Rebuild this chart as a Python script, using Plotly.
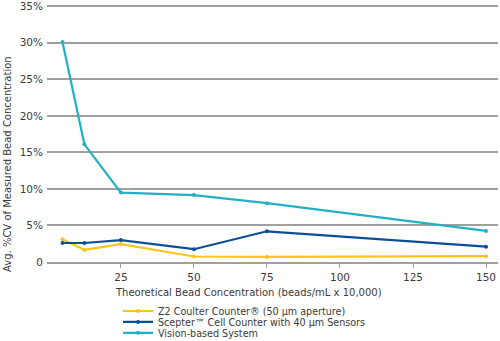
import plotly.graph_objects as go

# Theoretical bead concentration (beads/mL x 10,000)
conc = [5, 12.5, 25, 50, 75, 150]

# Average %CV of measured bead concentration, per instrument
z2_cv = [3.1, 1.65, 2.45, 0.75, 0.7, 0.8]
scepter_cv = [2.6, 2.6, 3.0, 1.75, 4.2, 2.1]
vision_cv = [30.1, 16.1, 9.5, 9.15, 8.05, 4.25]

series_names = [
    "Z2 Coulter Counter® (50 µm aperture)",
    "Scepter™ Cell Counter with 40 µm Sensors",
    "Vision-based System",
]
series_values = [z2_cv, scepter_cv, vision_cv]
series_colors = ["#f7c51e", "#0b4f96", "#22b0c2"]

y_ticks = [0, 5, 10, 15, 20, 25, 30, 35]
y_tick_text = ["0", "5%", "10%", "15%", "20%", "25%", "30%", "35%"]
x_ticks = [25, 50, 75, 100, 125, 150]

x_title = "Theoretical Bead Concentration (beads/mL x 10,000)"
y_title = "Avg. %CV of Measured Bead Concentration"

font_family = "DejaVu Sans, Verdana, sans-serif"
text_color = "#3a3a3a"
grid_color = "#a0a0a0"

# one compact legend per series, stacked tightly under the x-axis title
legend_ids = ["legend", "legend2", "legend3"]
legend_rows = [0.088, 0.056, 0.024]

fig = go.Figure()
for name, vals, color, lid in zip(series_names, series_values, series_colors, legend_ids):
    fig.add_trace(go.Scatter(
        x=conc, y=vals, name=name, mode="lines+markers",
        line=dict(color=color, width=2.2),
        marker=dict(color=color, size=4),
        legend=lid,
    ))

legend_style = dict(
    xref="container", yref="container", x=0.236, xanchor="left", yanchor="middle",
    font=dict(size=9.6, color=text_color), itemwidth=30,
    bgcolor="rgba(0,0,0,0)", borderwidth=0,
)

# axis titles are centred on the page rather than on the plot area
fig.add_annotation(
    text=x_title, xref="paper", yref="paper", x=(248 - 47) / 451, y=-30 / 258,
    xanchor="center", yanchor="middle", showarrow=False,
    font=dict(size=10, color=text_color),
)
fig.add_annotation(
    text=y_title, xref="paper", yref="paper", x=-40 / 451, y=(262 - 164) / 258,
    xanchor="center", yanchor="middle", textangle=-90, showarrow=False,
    font=dict(size=10, color=text_color),
)

fig.update_layout(
    width=500, height=341,
    margin=dict(l=47, r=2, t=4, b=79, autoexpand=False),
    paper_bgcolor="white", plot_bgcolor="white",
    font=dict(family=font_family, size=10.5, color=text_color),
    showlegend=True,
    legend=dict(y=legend_rows[0], **legend_style),
    legend2=dict(y=legend_rows[1], **legend_style),
    legend3=dict(y=legend_rows[2], **legend_style),
    xaxis=dict(
        range=[-0.3, 154.1], tickvals=x_ticks,
        showgrid=False, zeroline=False,
        showline=True, linecolor=grid_color, linewidth=2,
        ticks="outside", ticklen=4, tickcolor=grid_color, tickwidth=1,
    ),
    yaxis=dict(
        range=[0, 35.3], tickvals=y_ticks, ticktext=y_tick_text,
        ticklabeloverflow="allow", ticklabelstandoff=3,
        showgrid=True, gridcolor=grid_color, gridwidth=2,
        zeroline=False, showline=False, ticks="",
    ),
)

fig.write_html("out.html")
